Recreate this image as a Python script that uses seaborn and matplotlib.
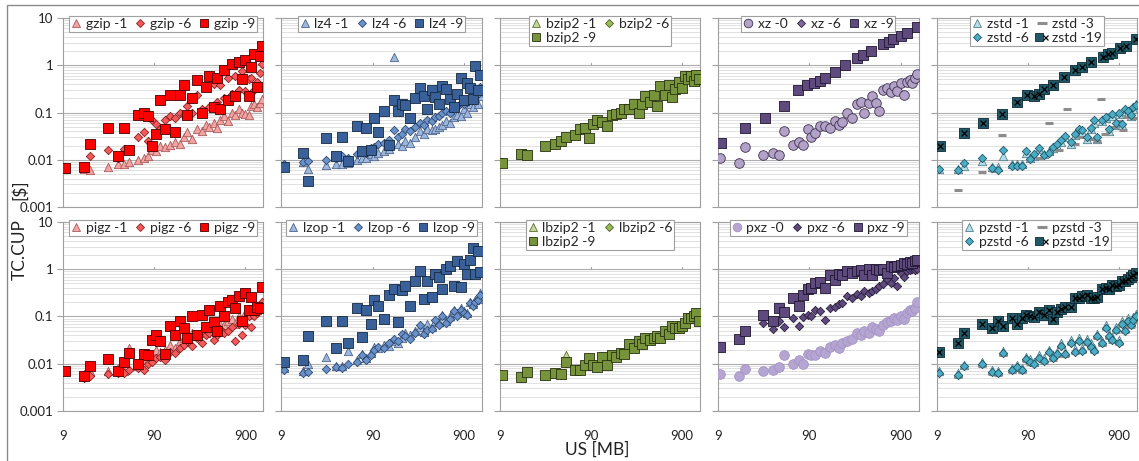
import numpy as np
import pandas as pd
import matplotlib
matplotlib.use("Agg")
import matplotlib.pyplot as plt
import seaborn as sns
from matplotlib.lines import Line2D
from matplotlib.patches import Rectangle
from matplotlib.legend_handler import HandlerTuple
from matplotlib.ticker import FixedLocator, FixedFormatter, LogLocator, NullFormatter, NullLocator

nan = np.nan

# ---------------- data ----------------
US = [9.5, 15.4, 17.8, 28, 36, 42, 48, 60, 69, 77,
      86, 94, 104, 119, 135, 153, 171, 190, 206, 233,
      265, 300, 330, 356, 404, 440, 480, 520, 581, 643,
      700, 760, 830, 900, 977, 1050, 1130, 1210, 1290, 1373]

gzip_1 = [0.0065, 0.0065, 0.006, 0.007, 0.008, 0.008, 0.009, 0.01, 0.011, 0.012,
          0.016, 0.015, 0.02, 0.019, 0.021, 0.024, 0.022, 0.03, 0.038, 0.028,
          0.045, 0.04, 0.055, 0.05, 0.06, 0.047, 0.07, 0.085, 0.065, 0.1,
          0.09, 0.12, 0.1, 0.095, 0.09, 0.14, 0.15, 0.13, 0.16, 0.19]
gzip_6 = [0.007, 0.007, 0.012, 0.016, 0.011, 0.017, 0.016, 0.03, 0.038, 0.025,
          0.07, 0.058, 0.045, 0.07, 0.085, 0.075, 0.1, 0.09, 0.14, 0.1,
          0.23, 0.12, 0.35, 0.13, 0.4, 0.17, 0.38, 0.2, 0.55, 0.25,
          0.6, 0.3, 0.75, 0.28, 0.5, 0.55, 0.3, 0.45, 0.7, 1.05]
gzip_9 = [0.0068, 0.007, 0.022, 0.047, 0.012, 0.047, 0.016, 0.09, 0.1, 0.085,
          0.02, 0.035, 0.18, 0.045, 0.24, 0.038, 0.23, 0.38, 0.09, 0.2,
          0.48, 0.1, 0.35, 0.6, 0.13, 0.55, 0.12, 0.8, 0.18, 1.05,
          0.22, 1.2, 0.5, 1.3, 0.22, 0.9, 1.7, 0.35, 1.6, 2.5]

pigz_1 = [0.007, 0.006, 0.007, 0.007, 0.008, 0.007, 0.022, 0.009, 0.012, 0.012,
          0.015, 0.02, 0.018, 0.02, 0.025, 0.022, 0.03, 0.035, 0.03, 0.045,
          0.04, 0.05, 0.045, 0.055, 0.05, 0.06, 0.07, 0.065, 0.08, 0.09,
          0.07, 0.1, 0.09, 0.12, 0.11, 0.13, 0.15, 0.14, 0.16, 0.2]
pigz_6 = [0.007, 0.005, 0.0055, 0.006, 0.0065, 0.0065, 0.0075, 0.008, 0.0075, 0.01,
          0.011, 0.013, 0.014, 0.012, 0.018, 0.017, 0.022, 0.025, 0.03, 0.024,
          0.035, 0.028, 0.04, 0.045, 0.032, 0.04, 0.055, 0.045, 0.05, 0.06,
          0.03, 0.07, 0.04, 0.065, 0.1, 0.06, 0.1, 0.12, 0.15, 0.2]
pigz_9 = [0.0069, 0.0055, 0.0088, 0.0126, 0.007, 0.011, 0.017, 0.01, 0.016, 0.015,
          0.032, 0.04, 0.031, 0.016, 0.064, 0.04, 0.08, 0.058, 0.035, 0.1,
          0.04, 0.11, 0.06, 0.135, 0.075, 0.05, 0.17, 0.1, 0.2, 0.22,
          0.15, 0.27, 0.08, 0.32, 0.14, 0.26, 0.14, 0.16, 0.15, 0.42]

lz4_1 = [0.0075, 0.009, 0.0065, 0.0077, 0.008, 0.008, 0.0085, 0.01, 0.011, 0.011,
         0.013, 0.012, 0.014, 0.015, 0.017, 1.5, 0.022, 0.02, 0.025, 0.023,
         0.03, 0.04, 0.035, 0.045, 0.042, 0.045, 0.05, 0.055, 0.065, 0.06,
         0.08, 0.09, 0.085, 0.12, 0.1, 0.15, 0.13, 0.2, 0.15, 0.22]
lz4_6 = [0.008, 0.009, 0.0095, 0.01, 0.011, 0.012, 0.011, 0.013, 0.015, 0.014,
         0.018, 0.019, 0.022, 0.023, 0.026, 0.042, 0.03, 0.035, 0.045, 0.04,
         0.05, 0.06, 0.055, 0.07, 0.065, 0.08, 0.085, 0.1, 0.11, 0.1,
         0.14, 0.13, 0.16, 0.15, 0.17, 0.2, 0.18, 0.22, 0.25, 0.35]
lz4_9 = [0.007, 0.014, 0.0036, 0.029, 0.012, 0.03, 0.0093, 0.052, 0.015, 0.048,
         0.016, 0.077, 0.038, 0.107, 0.021, 0.188, 0.11, 0.15, 0.145, 0.077,
         0.2, 0.33, 0.22, 0.12, 0.3, 0.21, 0.155, 0.36, 0.31, 0.19,
         0.13, 0.25, 0.54, 0.18, 0.43, 0.33, 0.19, 0.98, 0.3, 0.63]

lzop_1 = [0.008, 0.007, 0.01, 0.014, 0.009, 0.009, 0.019, 0.012, 0.016, 0.013,
          0.017, 0.023, 0.022, 0.025, 0.024, 0.03, 0.028, 0.035, 0.045, 0.04,
          0.05, 0.06, 0.048, 0.07, 0.06, 0.08, 0.075, 0.11, 0.08, 0.1,
          0.14, 0.12, 0.15, 0.13, 0.12, 0.2, 0.18, 0.22, 0.24, 0.32]
lzop_6 = [0.0075, 0.0065, 0.0068, 0.0077, 0.0085, 0.0082, 0.01, 0.011, 0.015, 0.012,
          0.015, 0.02, 0.023, 0.022, 0.027, 0.034, 0.03, 0.042, 0.038, 0.034,
          0.045, 0.065, 0.042, 0.052, 0.055, 0.083, 0.065, 0.1, 0.072, 0.09,
          0.13, 0.1, 0.14, 0.12, 0.105, 0.19, 0.165, 0.2, 0.22, 0.28]
lzop_9 = [0.011, 0.012, 0.038, 0.08, 0.022, 0.08, 0.028, 0.148, 0.037, 0.137,
          0.07, 0.22, 0.165, 0.087, 0.28, 0.39, 0.077, 0.37, 0.45, 0.17,
          0.56, 0.92, 0.23, 0.56, 0.26, 0.78, 0.68, 0.38, 1.0, 1.15,
          0.45, 1.5, 0.42, 1.3, 0.78, 1.6, 2.75, 0.8, 2.4, 0.87]

bzip2_1 = [0.009, 0.0135, 0.013, 0.02, 0.023, 0.026, 0.031, 0.034, 0.047, 0.05,
           0.031, 0.058, 0.072, 0.064, 0.055, 0.09, 0.098, 0.104, 0.125, 0.125,
           0.155, 0.105, 0.155, 0.23, 0.175, 0.24, 0.145, 0.37, 0.25, 0.39,
           0.22, 0.33, 0.46, 0.34, 0.62, 0.54, 0.62, 0.49, 0.64, 0.52]
bzip2_6 = [0.0088, 0.0132, 0.0129, 0.0198, 0.0225, 0.0255, 0.0305, 0.0335, 0.046, 0.049,
           0.03, 0.057, 0.071, 0.063, 0.053, 0.089, 0.096, 0.102, 0.122, 0.122,
           0.152, 0.102, 0.152, 0.225, 0.172, 0.235, 0.142, 0.365, 0.245, 0.385,
           0.215, 0.325, 0.455, 0.335, 0.61, 0.53, 0.61, 0.48, 0.63, 0.51]
bzip2_9 = [0.0085, 0.013, 0.0128, 0.0195, 0.022, 0.025, 0.03, 0.033, 0.045, 0.048,
           0.029, 0.056, 0.07, 0.062, 0.052, 0.088, 0.095, 0.1, 0.12, 0.12,
           0.15, 0.1, 0.15, 0.22, 0.17, 0.23, 0.14, 0.36, 0.24, 0.38,
           0.21, 0.32, 0.45, 0.33, 0.6, 0.52, 0.6, 0.47, 0.62, 0.5]

lbzip2_1 = [0.006, 0.0054, 0.007, 0.0059, 0.0065, 0.0062, 0.015, 0.0078, 0.0076, 0.0098,
            0.0135, 0.0098, 0.0088, 0.0145, 0.0098, 0.0155, 0.0145, 0.0176, 0.0166, 0.027,
            0.0228, 0.031, 0.027, 0.036, 0.033, 0.036, 0.039, 0.036, 0.052, 0.044,
            0.065, 0.058, 0.058, 0.068, 0.077, 0.096, 0.096, 0.104, 0.125, 0.084]
lbzip2_6 = [0.0057, 0.0051, 0.0067, 0.0056, 0.0062, 0.0059, 0.0105, 0.0074, 0.0072, 0.0092,
            0.0127, 0.0092, 0.0083, 0.0137, 0.0092, 0.0147, 0.0137, 0.0166, 0.0157, 0.0255,
            0.0216, 0.0294, 0.0255, 0.0343, 0.0314, 0.0343, 0.0372, 0.0343, 0.049, 0.0412,
            0.0617, 0.0549, 0.0549, 0.0617, 0.0725, 0.0911, 0.0911, 0.098, 0.1176, 0.0784]
lbzip2_9 = [0.0058, 0.0052, 0.0068, 0.0057, 0.0063, 0.006, 0.011, 0.0075, 0.0073, 0.0094,
            0.013, 0.0094, 0.0085, 0.014, 0.0094, 0.015, 0.014, 0.017, 0.016, 0.026,
            0.022, 0.03, 0.026, 0.035, 0.032, 0.035, 0.038, 0.035, 0.05, 0.042,
            0.063, 0.056, 0.056, 0.063, 0.074, 0.093, 0.093, 0.1, 0.12, 0.08]

xz_0 = [0.0108, 0.0085, 0.019, 0.0125, 0.014, 0.0128, 0.041, 0.021, 0.024, 0.021,
        0.044, 0.031, 0.036, 0.053, 0.053, 0.048, 0.066, 0.055, 0.063, 0.098,
        0.077, 0.148, 0.17, 0.098, 0.16, 0.22, 0.16, 0.11, 0.3, 0.33,
        0.27, 0.37, 0.29, 0.42, 0.23, 0.45, 0.49, 0.42, 0.53, 0.66]
xz_6 = []
XZ9_US = [9.7, 17.8, 29.5, 47, 68, 85, 102, 117, 132, 171,
          220, 300, 347, 432, 580, 669, 748, 900, 1066, 1373]
xz_9 = [0.023, 0.046, 0.078, 0.136, 0.305, 0.39, 0.42, 0.46, 0.55, 0.72,
        1.0, 1.41, 1.66, 2.04, 2.8, 3.16, 3.55, 4.2, 4.8, 6.3]

pxz_0 = [0.0061, 0.0054, 0.0077, 0.007, 0.0075, 0.0087, 0.0155, 0.01, 0.012, 0.01,
         0.016, 0.015, 0.015, 0.019, 0.017, 0.023, 0.025, 0.022, 0.028, 0.031,
         0.034, 0.045, 0.04, 0.05, 0.045, 0.06, 0.055, 0.05, 0.067, 0.075,
         0.08, 0.093, 0.085, 0.1, 0.09, 0.12, 0.135, 0.13, 0.15, 0.2]
pxz_6 = [nan, nan, nan, 0.073, 0.055, 0.08, 0.06, 0.095, 0.062, 0.098,
         0.11, 0.1, 0.14, 0.13, 0.085, 0.15, 0.16, 0.18, 0.195, 0.27,
         0.25, 0.3, 0.27, 0.35, 0.32, 0.35, 0.38, 0.44, 0.48, 0.61,
         0.5, 0.65, 0.44, 0.85, 0.7, 0.9, 0.95, 1.03, 0.98, 1.03]
pxz_9 = [0.023, 0.033, 0.049, 0.11, 0.08, 0.153, 0.125, 0.25, 0.17, 0.29,
         0.39, 0.41, 0.52, 0.53, 0.41, 0.74, 0.6, 0.79, 0.75, 0.9,
         0.85, 0.9, 0.95, 0.74, 1.03, 0.77, 1.0, 0.95, 1.03, 0.85,
         1.15, 1.1, 1.18, 1.25, 1.35, 1.28, 1.45, 1.35, 1.5, 1.6]

zstd_1 = [0.0065, 0.0065, 0.0075, 0.0095, 0.007, 0.007, 0.012, 0.008, 0.008, 0.008,
          0.014, 0.011, 0.012, 0.017, 0.013, 0.015, 0.018, 0.02, 0.024, 0.03,
          0.022, 0.033, 0.04, 0.038, 0.028, 0.045, 0.06, 0.028, 0.065, 0.075,
          0.04, 0.085, 0.055, 0.095, 0.055, 0.11, 0.1, 0.085, 0.12, 0.15]
zstd_6 = [0.0064, 0.006, 0.0085, 0.011, 0.0066, 0.0062, 0.016, 0.0075, 0.0075, 0.0075,
          0.015, 0.0105, 0.013, 0.018, 0.0125, 0.014, 0.019, 0.022, 0.026, 0.032,
          0.024, 0.035, 0.044, 0.042, 0.03, 0.048, 0.07, 0.03, 0.07, 0.08,
          0.044, 0.093, 0.06, 0.1, 0.058, 0.12, 0.11, 0.09, 0.13, 0.145]
ZSTD3_US = [15.4, 28, 38, 47, 75, 120, 152, 200, 241, 300,
            345, 440, 520, 570, 640, 800, 900, 986, 1100, 1330]
zstd_3 = [0.0023, 0.0055, 0.0058, 0.034, 0.007, 0.011, 0.059, 0.016, 0.12, 0.022,
          0.03, 0.028, 0.025, 0.197, 0.035, 0.05, 0.065, 0.043, 0.08, 0.078]
ZSTD19_US = [9.8, 18, 29, 47, 69, 88, 104, 120, 134, 172,
             226, 298, 353, 443, 595, 676, 748, 930, 1074, 1400]
zstd_19 = [0.0195, 0.036, 0.059, 0.094, 0.168, 0.24, 0.228, 0.247, 0.315, 0.389,
           0.56, 0.8, 0.91, 1.15, 1.53, 1.75, 1.86, 2.3, 2.57, 3.56]

pzstd_1 = [0.007, 0.0065, 0.0095, 0.011, 0.0075, 0.007, 0.019, 0.008, 0.0095, 0.0082,
           0.014, 0.0125, 0.011, 0.015, 0.013, 0.02, 0.015, 0.018, 0.027, 0.018,
           0.032, 0.021, 0.035, 0.022, 0.033, 0.027, 0.022, 0.043, 0.031, 0.066,
           0.043, 0.036, 0.059, 0.032, 0.08, 0.058, 0.092, 0.075, 0.097, 0.115]
pzstd_3 = [0.006, 0.0053, 0.0081, 0.0089, 0.0062, 0.0058, 0.0156, 0.0068, 0.0078, 0.0068,
           0.0115, 0.0101, 0.0092, 0.0124, 0.0106, 0.0166, 0.012, 0.0147, 0.0221, 0.0147,
           0.0258, 0.0166, 0.0285, 0.0175, 0.0267, 0.0212, 0.0175, 0.035, 0.0248, 0.0534,
           0.035, 0.0294, 0.0478, 0.0258, 0.0644, 0.046, 0.0736, 0.0598, 0.0782, 0.092]
pzstd_6 = [0.0065, 0.0058, 0.0088, 0.0097, 0.0067, 0.0063, 0.017, 0.0074, 0.0085, 0.0074,
           0.0125, 0.011, 0.01, 0.0135, 0.0115, 0.018, 0.013, 0.016, 0.024, 0.016,
           0.028, 0.018, 0.031, 0.019, 0.029, 0.023, 0.019, 0.038, 0.027, 0.058,
           0.038, 0.032, 0.052, 0.028, 0.07, 0.05, 0.08, 0.065, 0.085, 0.1]
pzstd_19 = [0.018, 0.027, 0.045, 0.068, 0.058, 0.08, 0.062, 0.093, 0.068, 0.093,
            0.11, 0.1, 0.098, 0.125, 0.11, 0.14, 0.087, 0.125, 0.145, 0.155,
            0.16, 0.25, 0.25, 0.27, 0.28, 0.25, 0.25, 0.26, 0.375, 0.41,
            0.39, 0.47, 0.45, 0.47, 0.57, 0.55, 0.63, 0.7, 0.75, 0.82]

XTICKS = [9, 90, 900]
XTICK_LABELS = ["9", "90", "900"]
YTICKS = [0.001, 0.01, 0.1, 1, 10]
YTICK_LABELS = ["0.001", "0.01", "0.1", "1", "10"]

# ---------------- styles ----------------
STY = {
    "tri": dict(marker="^", s=36),
    "dia": dict(marker="D", s=18),
    "sq": dict(marker="s", s=48),
    "circ": dict(marker="o", s=48),
    "dash": dict(marker="_", s=40),
}
LEG_MS = {"tri": 5.5, "dia": 4.0, "sq": 6.0, "circ": 6.2, "dash": 7}
LEG_M = {"tri": "^", "dia": "D", "sq": "s", "circ": "o", "dash": "_"}

PANELS = [
    [
        (3, [("gzip -1", US, gzip_1, "tri", "#F4A3A3", "#A85A5A", False),
             ("gzip -6", US, gzip_6, "dia", "#F45A5A", "#8A2020", False),
             ("gzip -9", US, gzip_9, "sq", "#FF0000", "#4A0000", False)]),
        (3, [("lz4 -1", US, lz4_1, "tri", "#9DB8E0", "#4E6488", False),
             ("lz4 -6", US, lz4_6, "dia", "#6A91CA", "#2E4A72", False),
             ("lz4 -9", US, lz4_9, "sq", "#3A609A", "#142840", False)]),
        (2, [("bzip2 -1", US, bzip2_1, "tri", "#C4D79B", "#5E7034", False),
             ("bzip2 -6", US, bzip2_6, "dia", "#9BBB59", "#4A6020", False),
             ("bzip2 -9", US, bzip2_9, "sq", "#77933C", "#26320E", False)]),
        (3, [("xz -0", US, xz_0, "circ", "#B3A2C7", "#3F3151", False),
             ("xz -6", [], xz_6, "dia", "#7F66A0", "#2F2440", False),
             ("xz -9", XZ9_US, xz_9, "sq", "#5F4A7E", "#1E1530", False)]),
        (2, [("zstd -1", US, zstd_1, "tri", "#B7DEE8", "#4F7F8C", False),
             ("zstd -3", ZSTD3_US, zstd_3, "dash", "#8C8C8C", "#8C8C8C", False),
             ("zstd -6", US, zstd_6, "dia", "#4BACC6", "#1F5666", False),
             ("zstd -19", ZSTD19_US, zstd_19, "sq", "#215968", "#0C2830", True)]),
    ],
    [
        (3, [("pigz -1", US, pigz_1, "tri", "#F4A3A3", "#A85A5A", False),
             ("pigz -6", US, pigz_6, "dia", "#F45A5A", "#8A2020", False),
             ("pigz -9", US, pigz_9, "sq", "#FF0000", "#4A0000", False)]),
        (3, [("lzop -1", US, lzop_1, "tri", "#9DB8E0", "#4E6488", False),
             ("lzop -6", US, lzop_6, "dia", "#6A91CA", "#2E4A72", False),
             ("lzop -9", US, lzop_9, "sq", "#3A609A", "#142840", False)]),
        (2, [("lbzip2 -1", US, lbzip2_1, "tri", "#C4D79B", "#5E7034", False),
             ("lbzip2 -6", US, lbzip2_6, "dia", "#9BBB59", "#4A6020", False),
             ("lbzip2 -9", US, lbzip2_9, "sq", "#77933C", "#26320E", False)]),
        (3, [("pxz -0", US, pxz_0, "circ", "#B4A5D2", "#A493C4", False),
             ("pxz -6", US, pxz_6, "dia", "#5F4A7E", "#2A1E3C", False),
             ("pxz -9", US, pxz_9, "sq", "#5F4A7E", "#1E1530", False)]),
        (2, [("pzstd -1", US, pzstd_1, "tri", "#B7DEE8", "#4F7F8C", False),
             ("pzstd -3", US, pzstd_3, "dash", "#8C8C8C", "#8C8C8C", False),
             ("pzstd -6", US, pzstd_6, "dia", "#4BACC6", "#1F5666", False),
             ("pzstd -19", US, pzstd_19, "sq", "#215968", "#0C2830", True)]),
    ],
]

# ---------------- figure ----------------
sns.set_theme(style="white")
plt.rcParams["font.family"] = ["Lato", "DejaVu Sans"]
plt.rcParams["axes.facecolor"] = "white"

fig, axes = plt.subplots(2, 5, figsize=(11.39, 4.61), dpi=100)
fig.subplots_adjust(left=63 / 1139, right=1137 / 1139, top=1 - 18 / 461,
                    bottom=1 - 411 / 461, wspace=0.09, hspace=0.079)

GRID_MAJ = "#ADADAD"
GRID_MIN = "#DCDCDC"
SPINE = "#A0A0A0"
TXT = "#222222"

for r in range(2):
    for c in range(5):
        ax = axes[r, c]
        ncol, series = PANELS[r][c]
        handles, labels = [], []
        for (lab, xs, ys, st, face, edge, xmark) in series:
            if len(xs) > 0:
                df = pd.DataFrame({"US": xs, "TC": ys}).dropna()
                kw = dict(STY[st])
                if st == "dash":
                    sns.scatterplot(data=df, x="US", y="TC", ax=ax, color=face,
                                    linewidth=2.2, legend=False, zorder=3, **kw)
                else:
                    sns.scatterplot(data=df, x="US", y="TC", ax=ax, color=face,
                                    edgecolor=edge, linewidth=0.6, legend=False,
                                    zorder=3, **kw)
                if xmark:
                    sns.scatterplot(data=df, x="US", y="TC", ax=ax, marker="x",
                                    s=18, color="#000000", linewidth=0.9,
                                    legend=False, zorder=4)
            if st == "dash":
                h = Line2D([], [], ls="none", marker="_", markersize=LEG_MS[st],
                           markeredgecolor=face, markeredgewidth=2.2)
            else:
                h = Line2D([], [], ls="none", marker=LEG_M[st], markersize=LEG_MS[st],
                           markerfacecolor=face, markeredgecolor=edge,
                           markeredgewidth=0.6)
            if xmark:
                hx = Line2D([], [], ls="none", marker="x", markersize=3.6,
                            markeredgecolor="#000000", markeredgewidth=0.9)
                h = (h, hx)
            handles.append(h)
            labels.append(lab)

        # row-major legend order
        n = len(handles)
        order = [i for col in range(ncol) for i in range(col, n, ncol)]
        handles = [handles[i] for i in order]
        labels = [labels[i] for i in order]

        ax.set_xscale("log")
        ax.set_yscale("log")
        ax.set_xlim(9, 1420)
        ax.set_ylim(0.001, 10)
        ax.set_xlabel("")
        ax.set_ylabel("")
        ax.xaxis.set_major_locator(FixedLocator(XTICKS))
        ax.xaxis.set_minor_locator(NullLocator())
        ax.yaxis.set_major_locator(FixedLocator(YTICKS))
        ax.yaxis.set_minor_locator(LogLocator(base=10, subs=np.arange(2, 10)))
        ax.yaxis.set_minor_formatter(NullFormatter())
        ax.grid(True, which="major", axis="y", color=GRID_MAJ, lw=0.8)
        ax.grid(True, which="minor", axis="y", color=GRID_MIN, lw=0.6)
        ax.grid(False, axis="x")
        ax.set_axisbelow(True)
        for sp in ax.spines.values():
            sp.set_color(SPINE)
            sp.set_linewidth(0.8)
        for t in XTICKS[1:]:
            ax.plot([t, t], [1.0, 1.13], color=SPINE, lw=0.8, zorder=1)

        ax.tick_params(axis="y", which="major", left=True, length=4, width=0.8,
                       color=SPINE, direction="out", labelsize=9.5, pad=3,
                       labelcolor=TXT)
        ax.tick_params(axis="y", which="minor", left=False)
        ax.tick_params(axis="x", which="both", bottom=False, labelsize=9.5,
                       pad=8, labelcolor=TXT)
        if c == 0:
            ax.yaxis.set_major_formatter(FixedFormatter(YTICK_LABELS))
        else:
            ax.set_yticklabels([])
        if r == 1:
            ax.xaxis.set_major_formatter(FixedFormatter(XTICK_LABELS))
        else:
            ax.set_xticklabels([])

        leg = ax.legend(handles, labels, loc="upper center",
                        bbox_to_anchor=(0.5, 1.01), ncol=ncol, frameon=True,
                        fancybox=False, edgecolor="#A0A0A0", framealpha=1,
                        fontsize=10, handlelength=0.7, handletextpad=0.35,
                        columnspacing=0.6, borderpad=0.15, borderaxespad=0,
                        labelspacing=0.12,
                        handler_map={tuple: HandlerTuple(ndivide=None)})
        leg.get_frame().set_linewidth(0.8)
        leg.set_zorder(5)

fig.text(20 / 1139, 1 - 250 / 461, "TC.CUP", rotation=90, ha="center",
         va="center", fontsize=12.5, color=TXT)
fig.text(20 / 1139, 1 - 190 / 461, "[$]", rotation=90, ha="center",
         va="center", fontsize=12.5, color=TXT)
fig.text(597 / 1139, 1 - 450 / 461, "US [MB]", ha="center", va="center",
         fontsize=12.5, color=TXT)

fig.patches.append(Rectangle((7 / 1139, -0.02), 1.1, 1 - 5 / 461 + 0.02,
                             transform=fig.transFigure, fill=False,
                             edgecolor="#8A8A8A", lw=1.0, zorder=0))

fig.savefig("out.png", dpi=100)
